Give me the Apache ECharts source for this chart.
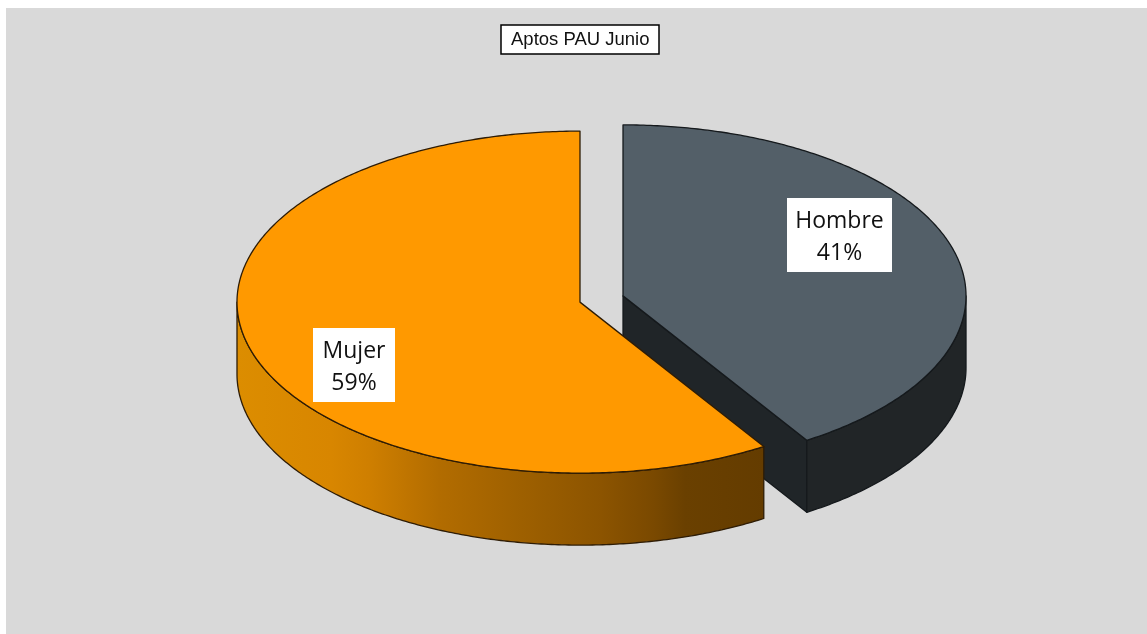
<!DOCTYPE html>
<html lang="en" style="height: 100%">
<head>
  <meta charset="utf-8">
  <script type="text/javascript" src="https://cdn.jsdelivr.net/npm/echarts@6/dist/echarts.min.js"></script>
</head>
<body style="height: 100%; margin: 0; background: #fff">
  <div id="pie" style="position: absolute; left: 6px; top: 8px; width: 1141px; height: 626px"></div>

  <script type="text/javascript">
	var titleText = 'Aptos PAU Junio';
	var categories = ['Hombre', 'Mujer'];
	var percents = [41, 59];

	// colours for each slice: top face, inner wall, outer wall gradient stops
	var topColors = ['#535f68', '#ff9900'];
	var innerColors = ['#202528', '#5f3900'];
	var lineColors = ['#15191c', '#2e1c05'];
	var wallStops = [
		[[0, '#212527'], [1, '#212527']],
		[[0, '#dc8d00'], [0.18, '#d88600'], [0.25, '#cf7f00'], [0.385, '#b26c00'], [0.54, '#9e6000'], [0.69, '#8c5400'], [0.79, '#7a4900'], [0.85, '#6a4000'], [1, '#643c00']]
	];

	// fake 3d layout, in chart pixels
	var cx = 595.5, cy = 291, rx = 343, ry = 171, depth = 72, explode = 0.0653;
	var labelBox = [[781, 190, 105, 74], [307, 320, 82, 74]];
	var labelShift = 2.5;

	var chart = echarts.init(document.getElementById('pie'));

	function point(c, angle, dy) {
		return [c[0] + rx * Math.sin(angle), c[1] - ry * Math.cos(angle) + (dy || 0)];
	}

	function arc(c, a0, a1, dy) {
		var pts = [];
		var n = Math.max(2, Math.ceil(Math.abs(a1 - a0) / 0.01));
		for (var i = 0; i <= n; i++) {
			pts.push(point(c, a0 + (a1 - a0) * i / n, dy));
		}
		return pts;
	}

	function renderSlice(params, api) {
		var idx = params.dataIndex;
		var total = 0, before = 0;
		for (var i = 0; i < percents.length; i++) {
			total += percents[i];
			if (i < idx) before += percents[i];
		}
		var a0 = before / total * Math.PI * 2;
		var a1 = (before + api.value(0)) / total * Math.PI * 2;
		var mid = (a0 + a1) / 2;
		var c = [cx + rx * explode * Math.sin(mid), cy - ry * explode * Math.cos(mid)];
		var children = [];
		var stroke = { stroke: lineColors[idx], lineWidth: 1.3, lineJoin: 'round' };

		// radial wall that can be seen from the front
		if (a0 === 0) {
			var edge = point(c, a1);
			children.push({
				type: 'polygon',
				shape: { points: [c, edge, [edge[0], edge[1] + depth], [c[0], c[1] + depth]] },
				style: Object.assign({ fill: innerColors[idx] }, stroke)
			});
		}

		// outer wall, only the part facing the viewer (90deg to 270deg)
		var w0 = Math.max(a0, Math.PI / 2), w1 = Math.min(a1, Math.PI * 1.5);
		var wall = arc(c, w0, w1).concat(arc(c, w1, w0, depth));
		children.push({
			type: 'polygon',
			shape: { points: wall },
			style: Object.assign({
				fill: new echarts.graphic.LinearGradient(0, 0, 1, 0,
					wallStops[idx].map(function (s) { return { offset: s[0], color: s[1] }; }))
			}, stroke)
		});

		// top face
		children.push({
			type: 'polygon',
			shape: { points: [c].concat(arc(c, a0, a1)) },
			style: Object.assign({ fill: topColors[idx] }, stroke)
		});

		// label box, then the text on it
		var box = labelBox[idx];
		children.push({
			type: 'rect',
			shape: { x: box[0], y: box[1], width: box[2], height: box[3] },
			style: { fill: '#fff' }
		});
		children.push({
			type: 'text',
			style: {
				text: categories[idx] + '\n' + Math.round(api.value(0)) + '%',
				x: box[0] + box[2] / 2,
				y: box[1] + box[3] / 2 + labelShift,
				align: 'center',
				verticalAlign: 'middle',
				fill: '#111',
				font: '23px "Open Sans"',
				lineHeight: 32
			}
		});
		return { type: 'group', children: children };
	}

	var option = {
		animation: false,
		backgroundColor: '#d9d9d9',
		title: {
			text: titleText,
			left: 495,
			top: 17,
			padding: [5, 10, 5, 10],
			backgroundColor: '#fff',
			borderColor: '#000',
			borderWidth: 1.5,
			textStyle: { fontFamily: 'Liberation Sans', fontSize: 18.5, fontWeight: 'normal', color: '#111' }
		},
		series: [{
			type: 'custom',
			coordinateSystem: 'none',
			silent: true,
			renderItem: renderSlice,
			data: percents.map(function (v) { return [v]; })
		}]
	};

	chart.setOption(option);
  </script>
</body>
</html>
